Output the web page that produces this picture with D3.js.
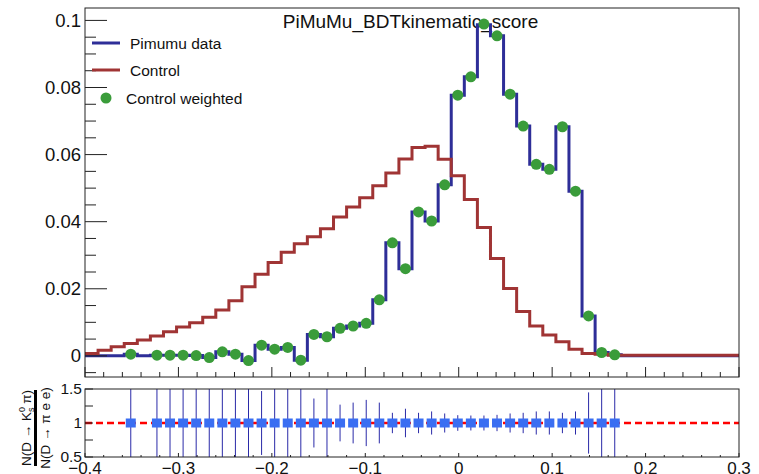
<!DOCTYPE html>
<html>
<head>
<meta charset="utf-8">
<script src="https://cdn.jsdelivr.net/npm/d3@7"></script>
<style>
  html, body { margin: 0; padding: 0; background: #fff; }
  svg { display: block; font-family: "Liberation Sans", Arial, sans-serif; }
</style>
</head>
<body>
<div id="chart"></div>
<script>
// histogram binning: 50 bins from -0.4 to 0.3
const X_MIN = -0.4;
const X_MAX = 0.3;
const N_BINS = 50;

// Pimumu data (normalised), one value per bin
const pimumuData = [
  0, 0, 0, 0.0005, 0, 0.0002, 0.0002, 0.0002, 0.0001, -0.0005,
  0.0012, 0.0005, -0.0014, 0.0032, 0.0020, 0.0025, -0.0013, 0.0064, 0.0057, 0.0082,
  0.0089, 0.0097, 0.0167, 0.0337, 0.0260, 0.0429, 0.0402, 0.0510, 0.0777, 0.0832,
  0.0987, 0.0954, 0.0780, 0.0685, 0.0571, 0.0556, 0.0683, 0.0491, 0.0119, 0.0010,
  0.0003, 0, 0, 0, 0, 0, 0, 0, 0, 0
];

// Control (normalised)
const controlHist = [
  0.0007, 0.0017, 0.0027, 0.0037, 0.0047, 0.0059, 0.0072, 0.0086, 0.0099, 0.0115,
  0.0137, 0.0164, 0.0206, 0.0243, 0.0278, 0.0309, 0.0334, 0.0355, 0.0379, 0.0414,
  0.0444, 0.0471, 0.0507, 0.0545, 0.0587, 0.0621, 0.0625, 0.0586, 0.0537, 0.0466,
  0.0383, 0.0290, 0.0201, 0.0132, 0.0089, 0.0062, 0.0042, 0.0020, 0.0007, 0.0005,
  0.0002, 0.0002, 0.0002, 0.0002, 0.0002, 0.0002, 0.0002, 0.0002, 0.0002, 0.0002
];

// Control weighted (points, null = empty bin)
const controlWeighted = [
  null, null, null, 0.0005, null, 0.0002, 0.0002, 0.0002, 0.0001, -0.0005,
  0.0012, 0.0005, -0.0014, 0.0032, 0.0020, 0.0025, -0.0013, 0.0064, 0.0057, 0.0082,
  0.0089, 0.0097, 0.0167, 0.0337, 0.0260, 0.0429, 0.0402, 0.0510, 0.0777, 0.0832,
  0.0989, 0.0954, 0.0780, 0.0685, 0.0571, 0.0556, 0.0683, 0.0491, 0.0119, 0.0010,
  0.0003, null, null, null, null, null, null, null, null, null
];

// ratio panel: value and error per bin
const ratioValue = [
  null, null, null, 1, null, 1, 1, 1, 1, 1,
  1, 1, 1, 1, 1, 1, 1, 1, 1, 1,
  1, 1, 1, 1, 1, 1, 1, 1, 1, 1,
  1, 1, 1, 1, 1, 1, 1, 1, 1, 1,
  1, null, null, null, null, null, null, null, null, null
];
const ratioError = [
  0, 0, 0, 1, 0, 1, 1, 1, 1, 1,
  1, 1, 1, 0.47, 1, 1, 1, 0.36, 1, 0.27,
  0.30, 0.34, 0.30, 0.15, 0.21, 0.15, 0.17, 0.14, 0.115, 0.11,
  0.11, 0.12, 0.14, 0.15, 0.17, 0.17, 0.15, 0.17, 0.45, 1,
  1, 0, 0, 0, 0, 0, 0, 0, 0, 0
];

const xTicks = [-0.4, -0.3, -0.2, -0.1, 0, 0.1, 0.2, 0.3];
const yTopTicks = [0, 0.02, 0.04, 0.06, 0.08, 0.1];
const yRatioTicks = [0.5, 1, 1.5];

const BLUE = "#2e2e98";
const RED = "#a03434";
const GREEN = "#3a9c3a";
const MARKER = "#3a6ef2";

const W = 759, H = 474;
const svg = d3.select("#chart").append("svg").attr("width", W).attr("height", H);

const x = d3.scaleLinear().domain([X_MIN, X_MAX]).range([85, 739]);
const yTop = d3.scaleLinear().domain([-0.0063, 0.1037]).range([377, 8]);
const yRatio = d3.scaleLinear().domain([0.5, 1.5]).range([457, 389]);

const binW = (X_MAX - X_MIN) / N_BINS;
const edge = i => X_MIN + i * binW;
const centre = i => X_MIN + (i + 0.5) * binW;

const fmt = v => (v < 0 ? "\u2212" : "") + d3.format("")(Math.abs(+v.toFixed(3)));

// clip paths for the panels
const defs = svg.append("defs");
defs.append("clipPath").attr("id", "clipTop")
  .append("rect").attr("x", 85).attr("y", 8).attr("width", 654).attr("height", 369);
defs.append("clipPath").attr("id", "clipRatio")
  .append("rect").attr("x", 85).attr("y", 389).attr("width", 654).attr("height", 68);

// ---------- top panel ----------
svg.append("text")
  .attr("x", 410.5).attr("y", 28)
  .attr("text-anchor", "middle")
  .attr("font-size", 19)
  .attr("fill", "#111")
  .text("PiMuMu_BDTkinematic_score");

function stepPath(vals, yScale) {
  const p = d3.path();
  vals.forEach((v, i) => {
    const y = yScale(v);
    if (i === 0) p.moveTo(x(edge(0)), y);
    else p.lineTo(x(edge(i)), y);
    p.lineTo(x(edge(i + 1)), y);
  });
  return p.toString();
}

const gTop = svg.append("g").attr("clip-path", "url(#clipTop)");

gTop.append("path")
  .attr("d", stepPath(pimumuData, yTop))
  .attr("fill", "none")
  .attr("stroke", BLUE)
  .attr("stroke-width", 3);

gTop.append("path")
  .attr("d", stepPath(controlHist, yTop))
  .attr("fill", "none")
  .attr("stroke", RED)
  .attr("stroke-width", 3);

gTop.selectAll("circle.cw")
  .data(controlWeighted.map((v, i) => ({ v, i })).filter(d => d.v !== null))
  .enter().append("circle")
  .attr("class", "cw")
  .attr("cx", d => x(centre(d.i)))
  .attr("cy", d => yTop(d.v))
  .attr("r", 5.5)
  .attr("fill", GREEN);

// frame
svg.append("rect")
  .attr("x", 85).attr("y", 8).attr("width", 654).attr("height", 369)
  .attr("fill", "none").attr("stroke", "#222").attr("stroke-width", 1);

// x ticks (inward) on top panel
const xMinor = d3.range(-0.4, 0.3001, 0.02);
svg.append("g").selectAll("line")
  .data(xMinor)
  .enter().append("line")
  .attr("x1", d => x(d)).attr("x2", d => x(d))
  .attr("y1", 377)
  .attr("y2", d => xTicks.some(t => Math.abs(t - d) < 1e-6) ? 367 : 372)
  .attr("stroke", "#222");

// y axis top panel
const yMinor = d3.range(-0.005, 0.1031, 0.005);
svg.append("g").selectAll("line")
  .data(yMinor)
  .enter().append("line")
  .attr("x1", 85)
  .attr("x2", d => yTopTicks.some(t => Math.abs(t - d) < 1e-6) ? 107 : 96)
  .attr("y1", d => yTop(d)).attr("y2", d => yTop(d))
  .attr("stroke", "#222");

svg.append("g").selectAll("text")
  .data(yTopTicks)
  .enter().append("text")
  .attr("x", 81)
  .attr("y", d => yTop(d))
  .attr("dy", "0.35em")
  .attr("text-anchor", "end")
  .attr("font-size", 18.5)
  .attr("fill", "#111")
  .text(d => fmt(d));

// legend
const legend = svg.append("g").attr("font-size", 15.5).attr("fill", "#111");
legend.append("line").attr("x1", 92).attr("x2", 120).attr("y1", 43).attr("y2", 43)
  .attr("stroke", BLUE).attr("stroke-width", 3);
legend.append("text").attr("x", 130).attr("y", 48.5).text("Pimumu data");
legend.append("line").attr("x1", 92).attr("x2", 120).attr("y1", 70).attr("y2", 70)
  .attr("stroke", RED).attr("stroke-width", 3);
legend.append("text").attr("x", 130).attr("y", 75.5).text("Control");
legend.append("circle").attr("cx", 106).attr("cy", 98).attr("r", 5.5).attr("fill", GREEN);
legend.append("text").attr("x", 126).attr("y", 103.5).text("Control weighted");

// ---------- ratio panel ----------
const gRatio = svg.append("g").attr("clip-path", "url(#clipRatio)");

gRatio.append("line")
  .attr("x1", 85).attr("x2", 739)
  .attr("y1", yRatio(1)).attr("y2", yRatio(1))
  .attr("stroke", "#ff0000").attr("stroke-width", 2.5)
  .attr("stroke-dasharray", "7,4");

const ratioPts = ratioValue.map((v, i) => ({ v, i, e: ratioError[i] })).filter(d => d.v !== null);

gRatio.selectAll("line.err")
  .data(ratioPts)
  .enter().append("line")
  .attr("class", "err")
  .attr("x1", d => x(centre(d.i))).attr("x2", d => x(centre(d.i)))
  .attr("y1", d => yRatio(d.v + d.e)).attr("y2", d => yRatio(d.v - d.e))
  .attr("stroke", "#2a2aa8").attr("stroke-width", 1);

gRatio.selectAll("rect.mk")
  .data(ratioPts)
  .enter().append("rect")
  .attr("class", "mk")
  .attr("x", d => x(centre(d.i)) - 5)
  .attr("y", d => yRatio(d.v) - 4.5)
  .attr("width", 10).attr("height", 9)
  .attr("fill", MARKER);

svg.append("rect")
  .attr("x", 85).attr("y", 389).attr("width", 654).attr("height", 68)
  .attr("fill", "none").attr("stroke", "#222").attr("stroke-width", 1);

// x ticks ratio panel
svg.append("g").selectAll("line")
  .data(xMinor)
  .enter().append("line")
  .attr("x1", d => x(d)).attr("x2", d => x(d))
  .attr("y1", 457)
  .attr("y2", d => xTicks.some(t => Math.abs(t - d) < 1e-6) ? 453 : 455)
  .attr("stroke", "#222");

svg.append("g").selectAll("text")
  .data(xTicks)
  .enter().append("text")
  .attr("x", d => x(d))
  .attr("y", 473.5)
  .attr("text-anchor", "middle")
  .attr("font-size", 17)
  .attr("fill", "#111")
  .text(d => fmt(d));

// y ticks ratio panel
const yRatioMinor = [0.5, 0.75, 1, 1.25, 1.5];
svg.append("g").selectAll("line")
  .data(yRatioMinor)
  .enter().append("line")
  .attr("x1", 85)
  .attr("x2", 93)
  .attr("y1", d => yRatio(d)).attr("y2", d => yRatio(d))
  .attr("stroke", "#222");

svg.append("g").selectAll("text")
  .data(yRatioTicks)
  .enter().append("text")
  .attr("x", 82)
  .attr("y", d => yRatio(d))
  .attr("dy", "0.35em")
  .attr("text-anchor", "end")
  .attr("font-size", 15.5)
  .attr("fill", "#111")
  .text(d => d);

// ratio axis title: N(D -> Ks0 pi) / N(D -> pi e e), rotated
const yt = svg.append("g")
  .attr("transform", "translate(35.5,428) rotate(-90)")
  .attr("font-size", 13.5)
  .attr("fill", "#111");
yt.append("line").attr("x1", -38).attr("x2", 38).attr("y1", 0).attr("y2", 0)
  .attr("stroke", "#000").attr("stroke-width", 3);
const num = yt.append("text").attr("x", 0).attr("y", -5).attr("text-anchor", "middle");
num.append("tspan").text("N(D \u2192 K");
num.append("tspan").attr("font-size", 9).attr("dy", -6).text("0");
num.append("tspan").attr("font-size", 9).attr("dx", -5).attr("dy", 9).text("s");
num.append("tspan").attr("dy", -3).text(" \u03c0)");
yt.append("text").attr("x", 0).attr("y", 14).attr("text-anchor", "middle")
  .text("N(D \u2192 \u03c0 e e)");
</script>
</body>
</html>
